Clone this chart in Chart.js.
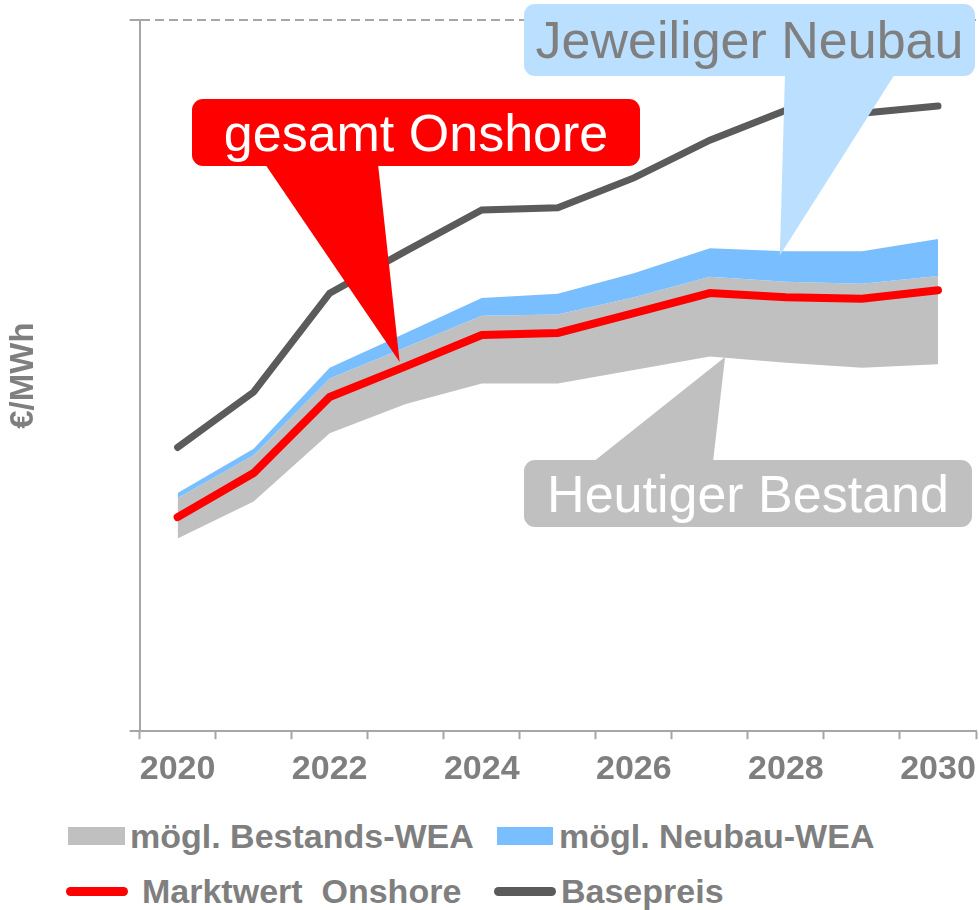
<!DOCTYPE html>
<html>
<head>
<meta charset="utf-8">
<script src="https://cdn.jsdelivr.net/npm/chart.js@4"></script>
<style>
body { margin: 0; background: #fff; }
#wrap { position: relative; width: 979px; height: 910px; }
#chart { position: absolute; left: 0; top: 0; }
.lg-text { position: absolute; font: bold 34px "Liberation Sans", Arial, sans-serif; color: #7f7f7f; line-height: 40px; height: 40px; white-space: pre; }
.lg-sw { position: absolute; }
</style>
</head>
<body>
<div id="wrap">
<canvas id="chart" width="979" height="800"></canvas>
<div id="legend"></div>
</div>
<script>
// data (arbitrary €/MWh scale, 0..100)
const years = ['2020', '2021', '2022', '2023', '2024', '2025', '2026', '2027', '2028', '2029', '2030'];
const basepreis = [39.9, 47.7, 61.6, 67.5, 73.3, 73.6, 77.8, 83.1, 87.3, 86.9, 87.9];
const marktwert = [30.1, 36.3, 47.0, 51.3, 55.7, 56.0, 58.8, 61.6, 61.0, 60.8, 62.0];
const bestandUnten = [27.1, 32.3, 41.9, 46.0, 48.9, 48.9, 50.8, 52.7, 51.8, 51.1, 51.6];
const bestandOben = [32.8, 38.8, 49.6, 54.0, 58.4, 58.6, 61.0, 63.9, 63.2, 62.9, 64.0];
const neubauOben = [33.5, 39.7, 51.1, 56.0, 60.9, 61.5, 64.4, 67.9, 67.5, 67.5, 69.2];

const GRAY = '#c0c0c0';
const BLUE = '#79bfff';
const RED = '#ff0000';
const DARK = '#5a5b5a';
const TEXT = '#7f7f7f';
const AXIS = '#a6a6a6';
const FONT = '"Liberation Sans", Arial, sans-serif';

// callout boxes: box in pixels, tip anchored to data (index, value)
const callouts = [
    { text: 'Jeweiliger Neubau', bg: '#bbdffe', fg: TEXT, box: [524, 4, 451, 72], base: [785, 895], tip: { x: 7.92, y: 66.9 } },
    { text: 'gesamt Onshore', bg: RED, fg: '#fff', box: [192, 99, 448, 67], base: [265, 378], tip: { x: 2.92, y: 51.9 } },
    { text: 'Heutiger Bestand', bg: GRAY, fg: '#fff', box: [524, 460, 448, 67], base: [593, 713], tip: { x: 7.2, y: 52.6 } }
];

function roundRect(ctx, x, y, w, h, r) {
    ctx.beginPath();
    ctx.moveTo(x + r, y);
    ctx.arcTo(x + w, y, x + w, y + h, r);
    ctx.arcTo(x + w, y + h, x, y + h, r);
    ctx.arcTo(x, y + h, x, y, r);
    ctx.arcTo(x, y, x + w, y, r);
    ctx.closePath();
}

const calloutPlugin = {
    id: 'callouts',
    afterDatasetsDraw(chart) {
        const ctx = chart.ctx;
        const xs = chart.scales.x, ys = chart.scales.y;
        callouts.forEach(c => {
            const [bx, by, bw, bh] = c.box;
            const tx = xs.getPixelForValue(c.tip.x);
            const ty = ys.getPixelForValue(c.tip.y);
            // base sits on the box edge facing the tip
            const baseY = ty > by + bh ? by + bh - 2 : by + 2;
            ctx.save();
            ctx.fillStyle = c.bg;
            ctx.beginPath();
            ctx.moveTo(c.base[0], baseY);
            ctx.lineTo(tx, ty);
            ctx.lineTo(c.base[1], baseY);
            ctx.closePath();
            ctx.fill();
            roundRect(ctx, bx, by, bw, bh, 11);
            ctx.fill();
            ctx.fillStyle = c.fg;
            ctx.font = '52px ' + FONT;
            ctx.textAlign = 'center';
            ctx.textBaseline = 'middle';
            ctx.fillText(c.text, bx + bw / 2, by + bh / 2 + 4);
            ctx.restore();
        });
    }
};

const ctx = document.getElementById('chart').getContext('2d');
const chart = new Chart(ctx, {
    type: 'line',
    data: {
        labels: years,
        datasets: [
            { label: 'Basepreis', data: basepreis, borderColor: DARK, borderWidth: 7, borderCapStyle: 'round', fill: false },
            { label: 'Marktwert  Onshore', data: marktwert, borderColor: RED, borderWidth: 8, borderCapStyle: 'round', fill: false },
            { label: 'mögl. Neubau-WEA', data: neubauOben, borderWidth: 0, borderColor: BLUE, backgroundColor: BLUE, fill: '+1' },
            { label: 'mögl. Bestands-WEA', data: bestandOben, borderWidth: 0, borderColor: GRAY, backgroundColor: GRAY, fill: '+1' },
            { label: 'bestand unten', data: bestandUnten, borderWidth: 0, borderColor: GRAY, fill: false }
        ]
    },
    options: {
        responsive: false,
        animation: false,
        elements: { point: { radius: 0, hoverRadius: 0 }, line: { tension: 0 } },
        layout: { padding: { left: 0, right: 3, top: 20, bottom: 0 } },
        plugins: { legend: { display: false }, tooltip: { enabled: false } },
        scales: {
            x: {
                offset: true,
                grid: { display: true, drawOnChartArea: false, drawTicks: true, offset: true, tickLength: 8, tickColor: AXIS, tickWidth: 2 },
                border: { color: AXIS, width: 2 },
                ticks: {
                    autoSkip: false, maxRotation: 0, padding: 10, color: TEXT,
                    font: { family: FONT, size: 34, weight: 'bold' },
                    callback: function (v, i) { return i % 2 === 0 ? years[i] : ''; }
                },
                // the last label fits in the offset, no extra room needed on the right
                afterFit: scale => { scale.paddingRight = 0; }
            },
            y: {
                min: 0, max: 100,
                ticks: { display: false, stepSize: 100 },
                grid: {
                    drawTicks: true, tickLength: 10, tickColor: AXIS, tickWidth: 2, lineWidth: 2,
                    color: c => c.tick && c.tick.value === 0 ? 'rgba(0,0,0,0)' : AXIS
                },
                border: { color: AXIS, width: 2, dash: [9, 5] },
                title: {
                    display: true, text: '€/MWh', color: TEXT,
                    font: { family: FONT, size: 33, weight: 'bold', lineHeight: 1.2 },
                    padding: { top: 4, bottom: 86 }
                }
            }
        }
    },
    plugins: [calloutPlugin]
});

// legend below the canvas, two rows
const legendItems = [
    { label: 'mögl. Bestands-WEA', kind: 'box', color: GRAY, sw: [68, 827, 57, 18], tx: 130, ty: 816 },
    { label: 'mögl. Neubau-WEA', kind: 'box', color: BLUE, sw: [497, 827, 56, 18], tx: 559, ty: 816 },
    { label: 'Marktwert  Onshore', kind: 'line', color: RED, sw: [66, 887, 62, 9], tx: 142, ty: 871 },
    { label: 'Basepreis', kind: 'line', color: DARK, sw: [494, 887, 62, 9], tx: 561, ty: 871 }
];
const legendEl = document.getElementById('legend');
legendItems.forEach(item => {
    const sw = document.createElement('div');
    sw.className = 'lg-sw';
    sw.style.left = item.sw[0] + 'px';
    sw.style.top = item.sw[1] + 'px';
    sw.style.width = item.sw[2] + 'px';
    sw.style.height = item.sw[3] + 'px';
    sw.style.background = item.color;
    if (item.kind === 'line') sw.style.borderRadius = '5px';
    legendEl.appendChild(sw);
    const t = document.createElement('div');
    t.className = 'lg-text';
    t.style.left = item.tx + 'px';
    t.style.top = item.ty + 'px';
    t.textContent = item.label;
    legendEl.appendChild(t);
});
</script>
</body>
</html>
